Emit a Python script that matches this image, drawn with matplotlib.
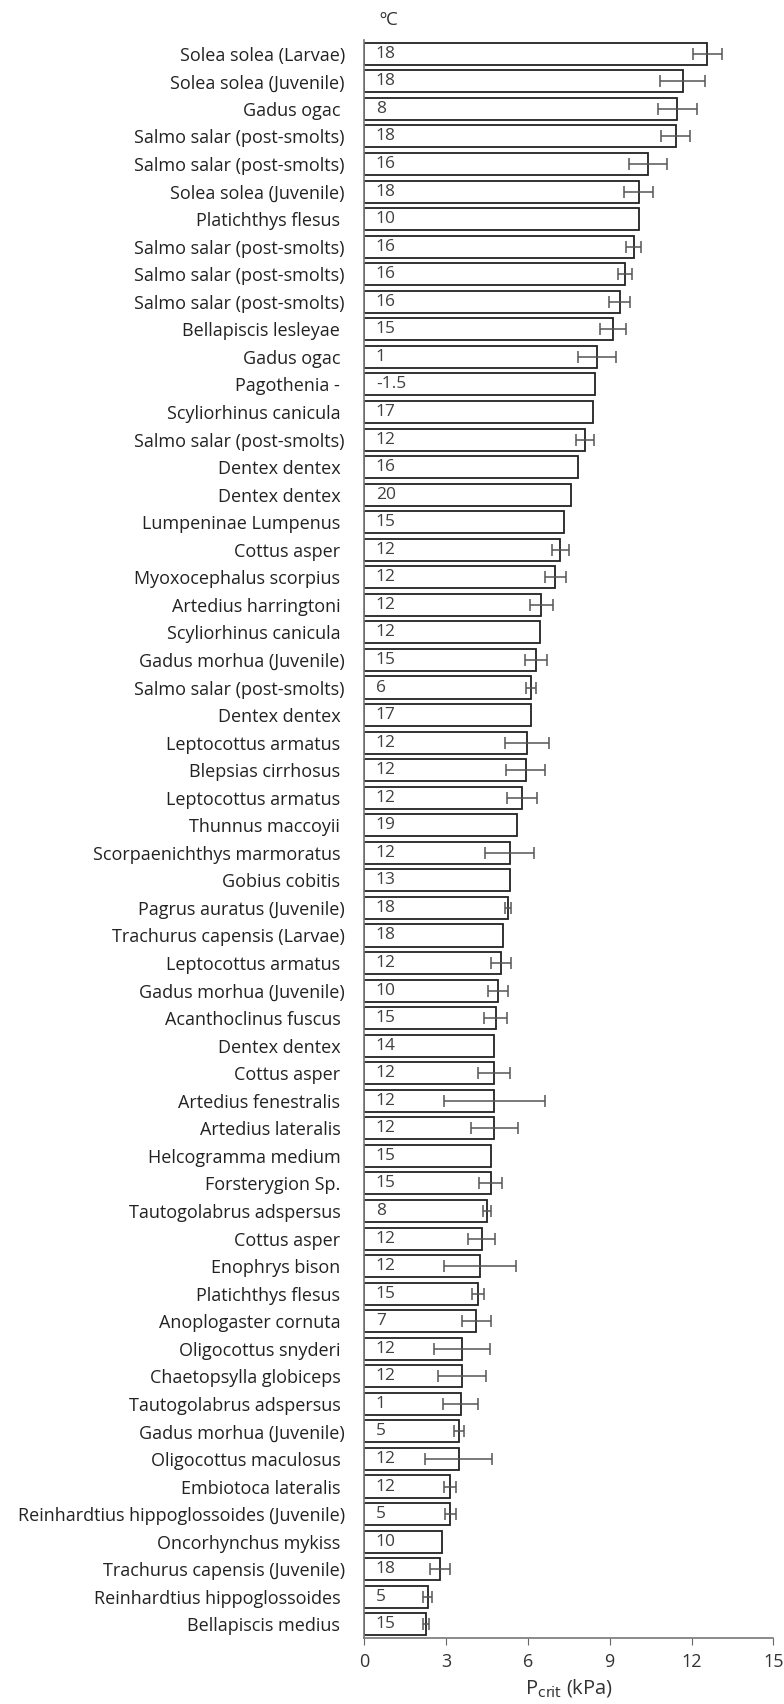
import matplotlib
matplotlib.use('Agg')
import matplotlib.pyplot as plt
import numpy as np

plt.rcParams['font.family'] = ['Open Sans', 'DejaVu Sans']

# species (top to bottom), Pcrit (kPa), error (+/- kPa), temperature (degC)
species = [
    'Solea solea (Larvae)', 'Solea solea (Juvenile)', 'Gadus ogac ',
    'Salmo salar (post-smolts)', 'Salmo salar (post-smolts)', 'Solea solea (Juvenile)',
    'Platichthys flesus ', 'Salmo salar (post-smolts)', 'Salmo salar (post-smolts)',
    'Salmo salar (post-smolts)', 'Bellapiscis lesleyae ', 'Gadus ogac ',
    'Pagothenia - ', 'Scyliorhinus canicula ', 'Salmo salar (post-smolts)',
    'Dentex dentex ', 'Dentex dentex ', 'Lumpeninae Lumpenus ',
    'Cottus asper ', 'Myoxocephalus scorpius ', 'Artedius harringtoni ',
    'Scyliorhinus canicula ', 'Gadus morhua (Juvenile)', 'Salmo salar (post-smolts)',
    'Dentex dentex ', 'Leptocottus armatus ', 'Blepsias cirrhosus ',
    'Leptocottus armatus ', 'Thunnus maccoyii ', 'Scorpaenichthys marmoratus ',
    'Gobius cobitis ', 'Pagrus auratus (Juvenile)', 'Trachurus capensis (Larvae)',
    'Leptocottus armatus ', 'Gadus morhua (Juvenile)', 'Acanthoclinus fuscus ',
    'Dentex dentex ', 'Cottus asper ', 'Artedius fenestralis ',
    'Artedius lateralis ', 'Helcogramma medium ', 'Forsterygion Sp. ',
    'Tautogolabrus adspersus ', 'Cottus asper ', 'Enophrys bison ',
    'Platichthys flesus ', 'Anoplogaster cornuta ', 'Oligocottus snyderi ',
    'Chaetopsylla globiceps ', 'Tautogolabrus adspersus ', 'Gadus morhua (Juvenile)',
    'Oligocottus maculosus ', 'Embiotoca lateralis ', 'Reinhardtius hippoglossoides (Juvenile)',
    'Oncorhynchus mykiss ', 'Trachurus capensis (Juvenile)', 'Reinhardtius hippoglossoides ',
    'Bellapiscis medius ',
]
pcrit = [
    12.58, 11.67, 11.48, 11.42, 10.39, 10.07, 10.07, 9.88, 9.56, 9.36,
    9.11, 8.53, 8.47, 8.40, 8.09, 7.84, 7.58, 7.32, 7.19, 7.00,
    6.49, 6.43, 6.31, 6.10, 6.10, 5.98, 5.92, 5.78, 5.59, 5.33,
    5.33, 5.27, 5.09, 5.01, 4.89, 4.82, 4.77, 4.77, 4.77, 4.77,
    4.63, 4.63, 4.50, 4.30, 4.24, 4.17, 4.11, 3.59, 3.59, 3.53,
    3.47, 3.47, 3.15, 3.15, 2.84, 2.78, 2.32, 2.26,
]
err = [
    0.53, 0.82, 0.72, 0.53, 0.70, 0.53, 0, 0.28, 0.25, 0.40,
    0.47, 0.70, 0, 0, 0.34, 0, 0, 0, 0.31, 0.38,
    0.43, 0, 0.40, 0.18, 0, 0.81, 0.72, 0.56, 0, 0.91,
    0, 0.10, 0, 0.37, 0.37, 0.43, 0, 0.59, 1.86, 0.87,
    0, 0.43, 0.14, 0.49, 1.32, 0.21, 0.52, 1.03, 0.88, 0.65,
    0.17, 1.23, 0.23, 0.20, 0, 0.36, 0.16, 0.10,
]
temps = [
    '18', '18', '8', '18', '16', '18', '10', '16', '16', '16',
    '15', '1', '-1.5', '17', '12', '16', '20', '15', '12', '12',
    '12', '12', '15', '6', '17', '12', '12', '12', '19', '12',
    '13', '18', '18', '12', '10', '15', '14', '12', '12', '12',
    '15', '15', '8', '12', '12', '15', '7', '12', '12', '1',
    '5', '12', '12', '5', '10', '18', '5', '15',
]

fig = plt.figure(figsize=(7.84, 17.04), dpi=100)
ax = fig.add_axes([0.4647, 0.0387, 0.5217, 0.9378])

y = np.arange(len(species))
xerr = np.array(err)
ax.barh(y, pcrit, height=0.8, color='white', edgecolor='#222222', linewidth=1.3)
has_err = xerr > 0
ax.errorbar(np.array(pcrit)[has_err], y[has_err], xerr=xerr[has_err], fmt='none',
            ecolor='#555555', elinewidth=1.1, capsize=4, capthick=1.1)

for yi, t in zip(y, temps):
    ax.text(0.42, yi, t, va='center', ha='left', fontsize=12.5, color='#404040')

ax.set_ylim(len(species) - 0.5, -0.5)
ax.set_xlim(0, 15)
ax.set_xticks([0, 3, 6, 9, 12, 15])
ax.set_yticks(y)
ax.set_yticklabels(species, fontsize=13, color='#222222')
ax.tick_params(axis='y', length=0, pad=14)
ax.tick_params(axis='x', direction='out', length=5, color='#666666', labelsize=13,
               labelcolor='#333333', pad=6)
for s in ['top', 'right']:
    ax.spines[s].set_visible(False)
for s in ['left', 'bottom']:
    ax.spines[s].set_color('#777777')
    ax.spines[s].set_linewidth(1.2)

ax.set_xlabel(r'P$_{\mathrm{crit}}$ (kPa)', fontsize=14.5, color='#333333', labelpad=4)
fig.text(0.4955, 0.988, 'ºC', ha='center', va='center', fontsize=13.5, color='#333333')

plt.savefig('out.png', dpi=100)
